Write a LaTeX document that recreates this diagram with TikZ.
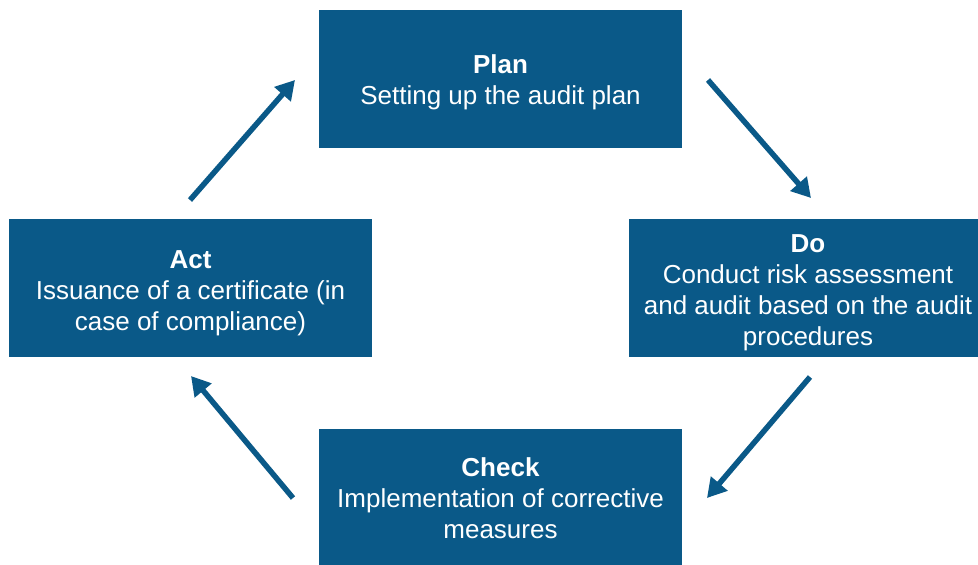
\documentclass[tikz,border=0pt]{standalone}
\usepackage{fontspec}
\setmainfont{Liberation Sans}
\usetikzlibrary{arrows.meta}
\definecolor{boxblue}{HTML}{0A5988}
\begin{document}
\begin{tikzpicture}[x=1pt,y=-1pt,
  stagebox/.style={fill=boxblue,draw=none,text=white,align=center,inner sep=0pt,
    font=\fontsize{26}{31}\selectfont},
  cyc/.style={draw=boxblue,line width=5.5pt,-{Triangle[width=21pt,length=19pt]}}]
\useasboundingbox (0,0) rectangle (978,565);
\fill[boxblue] (319,10) rectangle (682,148);
\fill[boxblue] (629,219) rectangle (978,357);
\fill[boxblue] (9,219) rectangle (372,357);
\fill[boxblue] (319,429) rectangle (682,565);
\node[stagebox] (plan) at (500.5,82.5) {\textbf{Plan}\\Setting up the audit plan};
\node[stagebox] (do) at (808,293) {\textbf{Do}\\Conduct risk assessment\\and audit based on the audit\\procedures};
\node[stagebox] (act) at (190.5,293) {\textbf{Act}\\Issuance of a certificate (in\\case of compliance)};
\node[stagebox] (check) at (500.5,498.5) {\textbf{Check}\\Implementation of corrective\\measures};
\coordinate (a1) at (190,200); \coordinate (a2) at (295,80);
\coordinate (b1) at (708,80); \coordinate (b2) at (811,198);
\coordinate (c1) at (810,377); \coordinate (c2) at (707,498);
\coordinate (d1) at (293,498); \coordinate (d2) at (191,376);
\draw[cyc] (a1) -- (a2);
\draw[cyc] (b1) -- (b2);
\draw[cyc] (c1) -- (c2);
\draw[cyc] (d1) -- (d2);
\end{tikzpicture}
\end{document}
